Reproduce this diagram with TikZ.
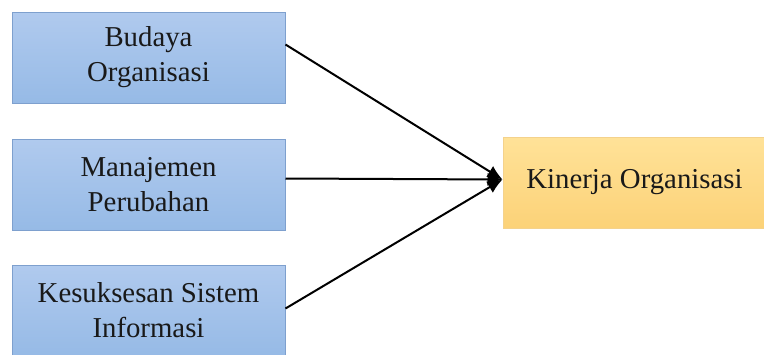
\documentclass[tikz,border=0pt]{standalone}
\usepackage{fontspec}
\setmainfont{Liberation Serif}
\usetikzlibrary{arrows.meta}
\definecolor{boxtop}{RGB}{176,202,238}
\definecolor{boxbot}{RGB}{150,186,230}
\definecolor{boxline}{RGB}{126,160,206}
\definecolor{orgtop}{RGB}{255,226,152}
\definecolor{orgbot}{RGB}{252,210,120}
\definecolor{orgline}{RGB}{244,210,140}
\begin{document}
\begin{tikzpicture}[x=1pt,y=-1pt,
	faktor/.style={draw=boxline,line width=1pt,top color=boxtop,bottom color=boxbot,minimum width=273pt,minimum height=91pt,align=center,font=\fontsize{28.8}{35}\selectfont,text=black!90,inner sep=0pt},
	hasil/.style={draw=orgline,line width=1pt,top color=orgtop,bottom color=orgbot,minimum width=263pt,minimum height=91pt,font=\fontsize{28.8}{35}\selectfont,text=black!90,inner sep=0pt},
	panah/.style={line width=2pt,-{Latex[length=15pt,width=13pt]}}]
					\useasboundingbox (0,0) rectangle (764,354);
					\node[faktor] (budaya) at (148.5,57.5) {Budaya\\Organisasi};
					\node[faktor] (manajemen) at (148.5,184.5) {Manajemen\\Perubahan};
					\node[faktor] (sistem) at (148.5,310.5) {Kesuksesan Sistem\\Informasi};
					\node[hasil] (kinerja) at (634.5,182.5) {Kinerja Organisasi};
					\draw[panah] ([yshift=13pt]budaya.east) -- ([yshift=3pt]kinerja.west);
					\draw[panah] ([yshift=6pt]manajemen.east) -- ([yshift=3pt]kinerja.west);
					\draw[panah] ([yshift=2pt]sistem.east) -- ([yshift=3pt]kinerja.west);
				\end{tikzpicture}
\end{document}
